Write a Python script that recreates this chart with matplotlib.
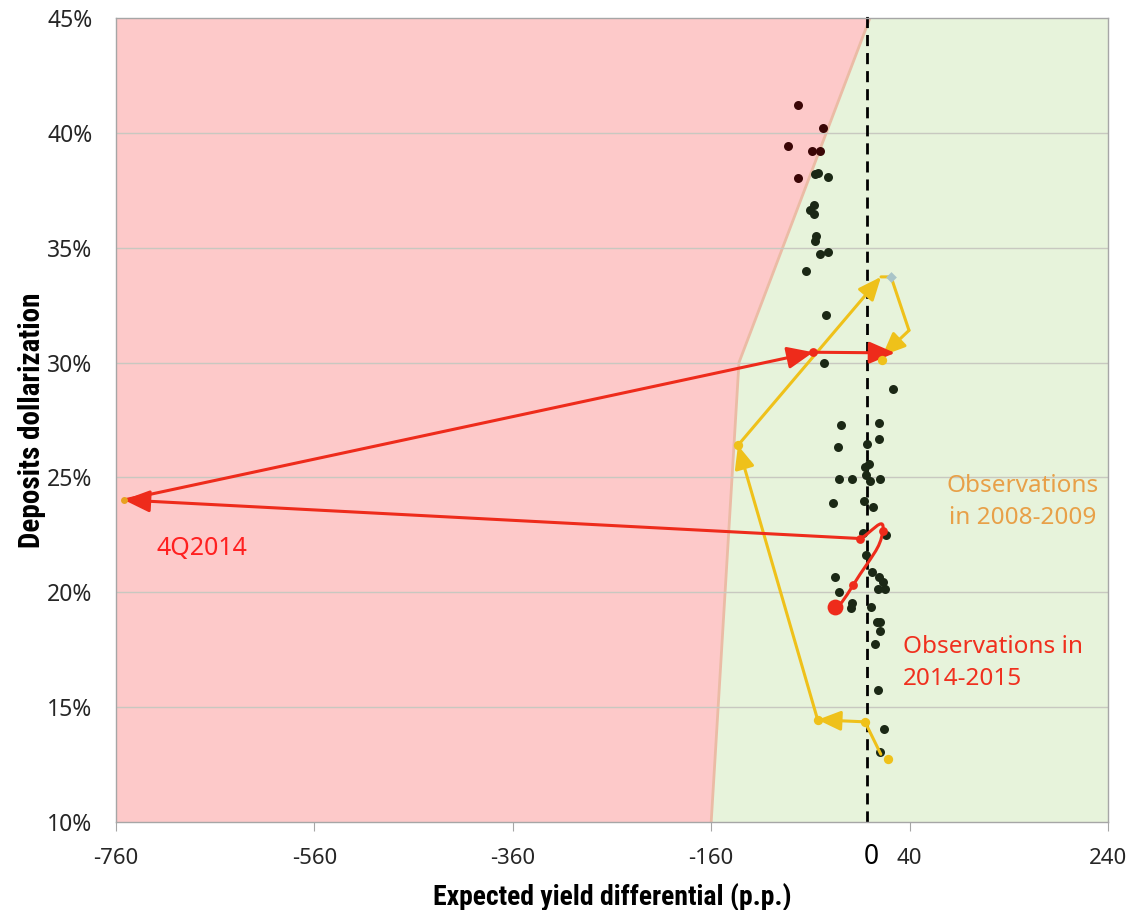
import matplotlib
matplotlib.use("Agg")
import matplotlib.pyplot as plt
import numpy as np
from matplotlib.path import Path
from matplotlib.patches import PathPatch, Polygon

# boundary between the two zones (x = yield differential, y = dollarization %)
bound_x = [-160, -132, 0]
bound_y = [10, 30, 45]

# quarterly observations, those lying in the red zone
obs_red_x = [-72.2, -47.6, -82.9, -58.4, -50.3, -72.2]
obs_red_y = [41.2, 40.2, 39.43, 39.2, 39.2, 38.02]

# observations in the green zone
obs_x = [-55.4, -52.7, -42.6, -56.7, -60.4, -56.7, -54.0, -55.4, -50.7, -42.6,
         -64.4, -43.9, -46.3, 23.3, -29.5, 9.2, 9.2, -32.5, -2.6, -0.6,
         -5.0, -4.3, -30.9, -18.1, 0.0, 10.4, -37.5, -5.7, 2.7, -6.7,
         15.9, -4.0, 1.7, -34.9, 9.4, 12.8, 8.4, 15.2, -30.8, -17.8,
         -19.1, 1.0, 6.7, 10.2, 10.4, 5.1, 7.8, 14.5, 10.2]
obs_y = [38.2, 38.25, 38.08, 36.86, 36.65, 36.46, 35.52, 35.29, 34.74, 34.8,
         34.0, 32.06, 30.0, 28.86, 27.3, 27.36, 26.69, 26.31, 26.46, 25.59,
         25.44, 25.09, 24.92, 24.92, 24.83, 24.92, 23.9, 23.96, 23.72, 22.6,
         22.5, 21.61, 20.87, 20.65, 20.65, 20.46, 20.16, 20.16, 20.03, 19.52,
         19.33, 19.35, 18.72, 18.72, 18.33, 17.76, 15.76, 14.03, 13.06]

# path 2008-2009 (yellow)
y08_x = [11.0, -5.0, -52.7, -133.0, 11.2, 21.3, 39.4, 12.5]
y08_y = [12.95, 14.36, 14.45, 26.4, 33.73, 33.73, 31.4, 30.3]
y08_arrow = [False, False, True, True, True, False, False, True]

# path 2014-2015 (red): smooth part then arrows
r14_x = [-34.9, -16.8, 13.0, -10.0]
r14_y = [19.35, 20.32, 22.67, 22.34]
r14_arr_x = [-10.0, -752.0, -57.1, 25.3]
r14_arr_y = [22.34, 24.02, 30.45, 30.42]

y_ticks = [10, 15, 20, 25, 30, 35, 40, 45]
x_ticks = [-760, -560, -360, -160, 40, 240]

RED_FILL = '#FDC9C9'
GREEN_FILL = '#E7F3DB'
YELLOW = '#EFC11A'
RED = '#EE2B1B'

fig = plt.figure(figsize=(11.34, 9.1), dpi=100)
ax = fig.add_axes([116 / 1134, 1 - 822 / 910, 992 / 1134, 804 / 910])
ax.set_xlim(-760, 240)
ax.set_ylim(10, 45)

# zones
red_poly = [(-760, 10)] + list(zip(bound_x, bound_y)) + [(-760, 45)]
green_poly = list(zip(bound_x, bound_y)) + [(240, 45), (240, 10)]
ax.add_patch(Polygon(red_poly, closed=True, facecolor=RED_FILL, edgecolor='none', zorder=0))
ax.add_patch(Polygon(green_poly, closed=True, facecolor=GREEN_FILL, edgecolor='none', zorder=0))
ax.plot(bound_x, bound_y, color='#EBBBA5', lw=2, zorder=1)

for yv in y_ticks[1:-1]:
    ax.axhline(yv, color='#C8C8C0', lw=1, zorder=1)

ax.plot([-3, -3], [10, 45.2], color='black', lw=2, ls=(0, (4, 2.5)), zorder=2, clip_on=False)

ax.scatter(obs_red_x, obs_red_y, s=42, color='#3A0606', zorder=3, linewidths=0)
ax.scatter(obs_x, obs_y, s=42, color='#1B2815', zorder=3, linewidths=0)

# yellow path
for i in range(1, len(y08_x)):
    style = '-|>,head_length=0.7,head_width=0.3' if y08_arrow[i] else '-'
    ax.annotate('', xy=(y08_x[i], y08_y[i]), xytext=(y08_x[i - 1], y08_y[i - 1]),
                arrowprops=dict(arrowstyle=style, color=YELLOW, lw=2.2,
                                mutation_scale=20, shrinkA=0, shrinkB=0), zorder=4)
ax.scatter([17.8, -5.0, -52.7, -133.0, 12.5], [12.76, 14.36, 14.45, 26.4, 30.1],
           s=45, color=YELLOW, zorder=5, linewidths=0)
ax.scatter([21.3], [33.73], s=30, marker='D', color='#A9C4C8', zorder=5, linewidths=0)

# red smooth curve (Bezier through points, Excel-like smoothing)
pts = np.column_stack([r14_x, r14_y])
n = len(pts)
k = 0.4
verts = [pts[0]]
codes = [Path.MOVETO]
for i in range(n - 1):
    p0 = pts[max(i - 1, 0)]
    p1 = pts[i]
    p2 = pts[i + 1]
    p3 = pts[min(i + 2, n - 1)]
    verts += [p1 + (p2 - p0) * k, p2 - (p3 - p1) * k, p2]
    codes += [Path.CURVE4] * 3
ax.add_patch(PathPatch(Path(verts, codes), facecolor='none', edgecolor=RED, lw=2.2, zorder=4))

for i in range(1, len(r14_arr_x)):
    ax.annotate('', xy=(r14_arr_x[i], r14_arr_y[i]), xytext=(r14_arr_x[i - 1], r14_arr_y[i - 1]),
                arrowprops=dict(arrowstyle='-|>,head_length=0.75,head_width=0.32', color=RED, lw=2.2,
                                mutation_scale=21, shrinkA=0, shrinkB=0), zorder=4)
ax.scatter(r14_x[1:] + [-57.1], r14_y[1:] + [30.45], s=40, color=RED, zorder=5, linewidths=0)
ax.scatter([r14_x[0]], [r14_y[0]], s=130, color=RED, zorder=5, linewidths=0)
ax.scatter([-752], [24.02], s=25, color='#E8A020', zorder=5, linewidths=0)

# labels
txt_font = ['Noto Sans', 'DejaVu Sans']
ax.text(-718.7, 21.89, '4Q2014', color='#FF2020', fontsize=18, family=txt_font, va='center', ha='left', zorder=6)
ax.text(154, 23.93, 'Observations\nin 2008-2009', color='#E8A048', fontsize=17.5, family=txt_font,
        ha='center', va='center', linespacing=1.45, zorder=6)
ax.text(33.4, 16.94, 'Observations in\n2014-2015', color='#F0301E', fontsize=17.5, family=txt_font,
        ha='left', va='center', linespacing=1.45, zorder=6)

# axes styling
ax.set_yticks(y_ticks)
ax.set_yticklabels([f'{v}%' for v in y_ticks])
ax.set_xticks(x_ticks)
ax.set_xticklabels([str(v) for v in x_ticks])
ax.tick_params(axis='y', length=0, pad=17, labelsize=16.5, labelcolor='#262626')
ax.tick_params(axis='x', length=6.5, pad=12, labelsize=16, labelcolor='#262626', color='#A6A6A6')
for lab in ax.get_xticklabels() + ax.get_yticklabels():
    lab.set_family(txt_font)
for sp in ax.spines.values():
    sp.set_color('#A6A6A6')
    sp.set_linewidth(1)
    sp.set_zorder(6)

ax.text(1.5, -0.0435, '0', transform=ax.get_xaxis_transform(), ha='center', va='center',
        fontsize=19, fontweight='bold', family=txt_font)

title_font = ['Liberation Sans Narrow', 'Roboto Condensed', 'Roboto', 'DejaVu Sans']
ax.set_xlabel('Expected yield differential (p.p.)', fontsize=20, fontweight='bold',
              family=title_font, fontstretch='condensed')
ax.set_ylabel('Deposits dollarization', fontsize=21, fontweight='bold',
              family=title_font, fontstretch='condensed')
ax.xaxis.label.set_va('center')
ax.yaxis.label.set_va('center')
ax.xaxis.set_label_coords(0.5, -0.0933)
ax.yaxis.set_label_coords(-0.0847, 0.5)

fig.savefig('out.png', dpi=100)
